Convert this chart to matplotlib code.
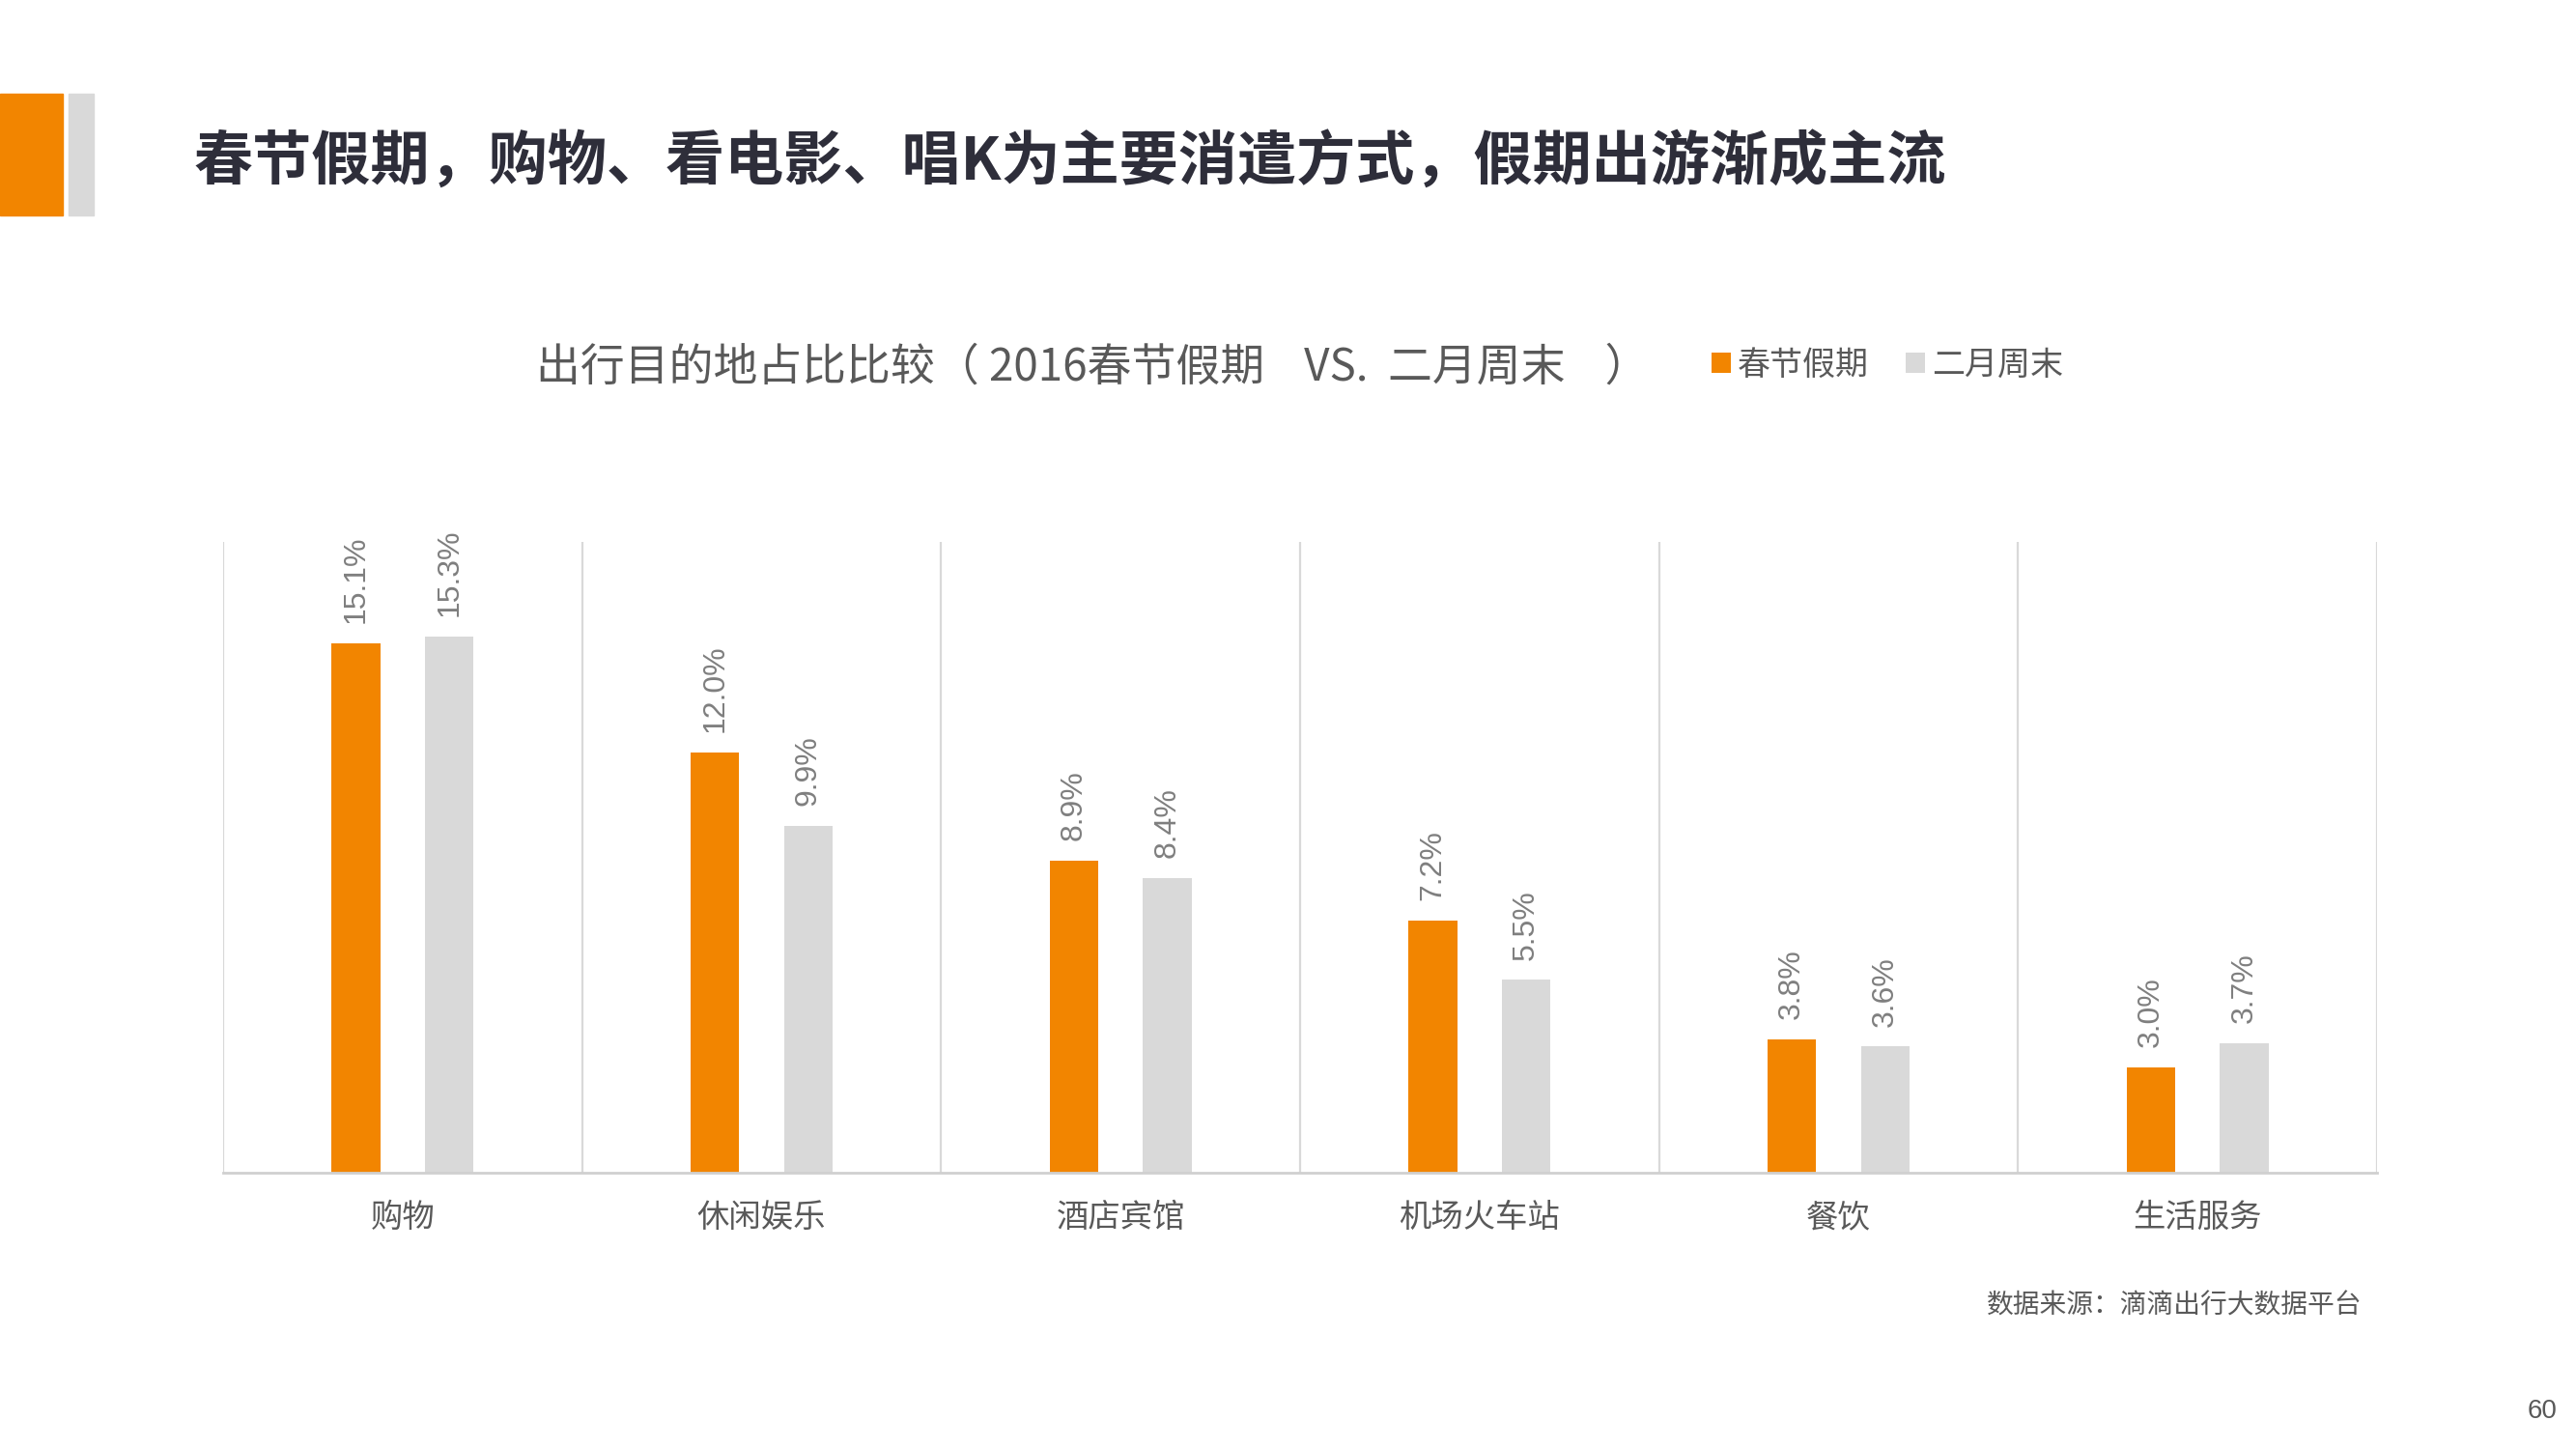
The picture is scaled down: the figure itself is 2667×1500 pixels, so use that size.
import numpy as np
import matplotlib.pyplot as plt
from matplotlib.patches import Rectangle

# 数据
categories = ['购物', '休闲娱乐', '酒店宾馆', '机场火车站', '餐饮', '生活服务']
spring_festival = [15.1, 12.0, 8.9, 7.2, 3.8, 3.0]
feb_weekend = [15.3, 9.9, 8.4, 5.5, 3.6, 3.7]
series_names = ['春节假期', '二月周末']

title = '春节假期，购物、看电影、唱K为主要消遣方式，假期出游渐成主流'
subtitle = '出行目的地占比比较（ 2016春节假期    VS.  二月周末    ）'
source = '数据来源：滴滴出行大数据平台'
page_no = '60'

ORANGE = '#F28500'
GRAY = '#D9D9D9'
TEXT = '#595959'


def main():
	plt.rcParams['font.family'] = ['Noto Sans CJK SC', 'DejaVu Sans']
	plt.rcParams['axes.unicode_minus'] = False

	fig = plt.figure(figsize=(26.67, 15), dpi=100)
	ax = fig.add_axes([0.0866, 0.1907, 0.8362, 0.4353])

	x = np.arange(len(categories))
	w = 0.135
	b1 = ax.bar(x - 0.13, spring_festival, w, color=ORANGE, label=series_names[0])
	b2 = ax.bar(x + 0.13, feb_weekend, w, color=GRAY, label=series_names[1])

	# 数值标签（竖排）
	for bars, vals in [(b1, spring_festival), (b2, feb_weekend)]:
		for r, v in zip(bars, vals):
			ax.annotate(f'{v:.1f}%', (r.get_x() + r.get_width() / 2, r.get_height()),
						xytext=(0, 15), textcoords='offset points', rotation=90,
						ha='center', va='bottom', fontsize=23, color='#7F7F7F',
						family=['Liberation Sans', 'Noto Sans CJK SC'])

	ax.set_xlim(-0.5, len(categories) - 0.5)
	ax.set_ylim(0, 18)
	for k in range(len(categories) + 1):
		ax.axvline(k - 0.5, color='#D9D9D9', lw=1.6, zorder=0)
	for s in ['top', 'right', 'left']:
		ax.spines[s].set_visible(False)
	ax.spines['bottom'].set_color('#D0D0D0')
	ax.spines['bottom'].set_linewidth(2)
	ax.set_yticks([])
	ax.set_xticks(x)
	ax.set_xticklabels(categories, fontsize=24, color=TEXT)
	ax.tick_params(axis='x', length=0, pad=21)

	# 标题和装饰块
	fig.patches.append(Rectangle((0, 1 - 223 / 1500), 65 / 2667, 126 / 1500,
								 transform=fig.transFigure, color=ORANGE))
	fig.patches.append(Rectangle((71 / 2667, 1 - 223 / 1500), 26 / 2667, 126 / 1500,
								 transform=fig.transFigure, color='#D9D9D9'))
	fig.text(201 / 2667, 1 - 168 / 1500, title, fontsize=44, fontweight='bold',
			 color='#2E2E3A', ha='left', va='center')

	fig.text(555 / 2667, 1 - 380 / 1500, subtitle, fontsize=33, color=TEXT,
			 ha='left', va='center')

	ax.legend(handles=[b1, b2], labels=series_names, loc='center left',
			  bbox_to_anchor=(1772 / 2667, 1 - 378 / 1500), bbox_transform=fig.transFigure,
			  ncol=2, frameon=False, fontsize=24.5, handlelength=0.6, handleheight=0.6,
			  handletextpad=0.2, columnspacing=1.1, borderpad=0, borderaxespad=0,
			  labelcolor=TEXT)

	fig.text(2445 / 2667, 1 - 1352 / 1500, source, fontsize=20, color=TEXT,
			 ha='right', va='center')
	fig.text(2647 / 2667, 1 - 1461 / 1500, page_no, fontsize=20, color=TEXT,
			 ha='right', va='center', family=['Liberation Sans', 'DejaVu Sans'])

	fig.savefig('out.png', dpi=100)


if __name__ == '__main__':
	main()
